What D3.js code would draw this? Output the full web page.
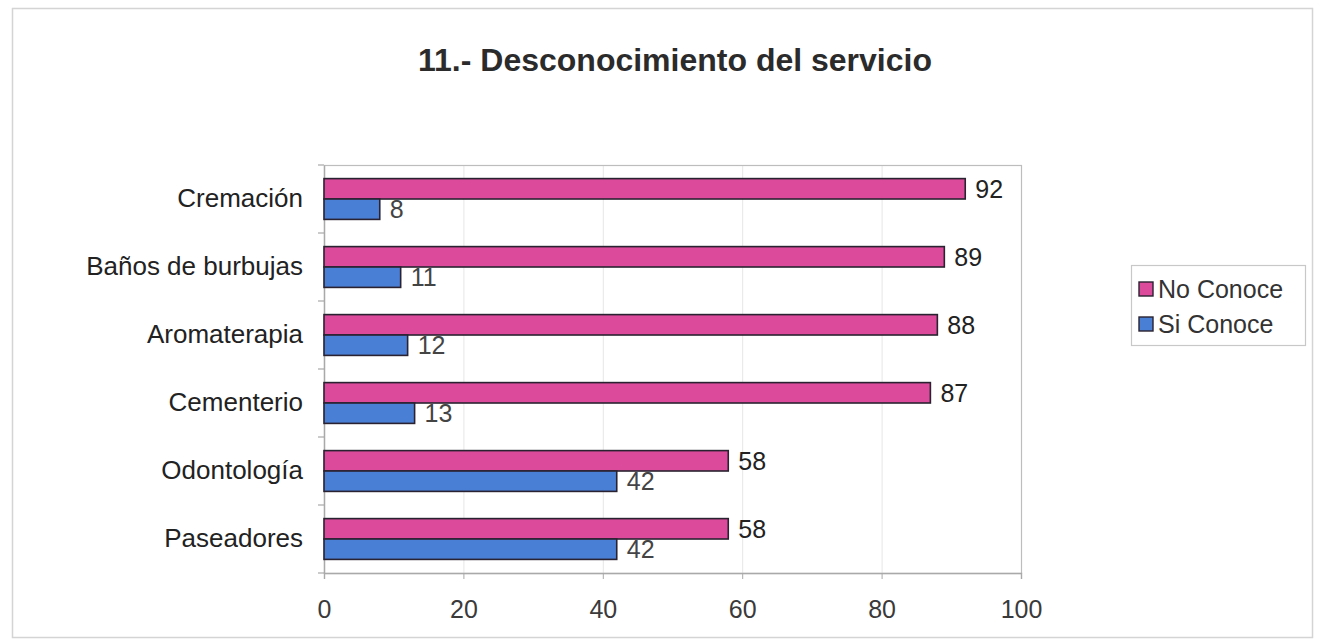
<!DOCTYPE html>
<html>
<head>
<meta charset="utf-8">
<script src="https://cdn.jsdelivr.net/npm/d3@7"></script>
<style>
  html, body { margin: 0; padding: 0; background: #fff; }
  svg { display: block; font-family: "Liberation Sans", Arial, sans-serif; }
</style>
</head>
<body>
<svg id="chart" width="1320" height="641"></svg>
<script>
// Services asked about, top to bottom
const categories = ["Cremación", "Baños de burbujas", "Aromaterapia", "Cementerio", "Odontología", "Paseadores"];
// Series names (legend order)
const seriesNames = ["No Conoce", "Si Conoce"];
// Percent of respondents per service
const noConoce = [92, 89, 88, 87, 58, 58];
const siConoce = [8, 11, 12, 13, 42, 42];
// Value axis ticks
const xTicks = [0, 20, 40, 60, 80, 100];

const colors = { "No Conoce": "#dc4a9b", "Si Conoce": "#4a7fd6" };
const values = { "No Conoce": noConoce, "Si Conoce": siConoce };

const svg = d3.select("#chart");

// Outer chart frame
svg.append("rect")
  .attr("x", 12.5).attr("y", 8.5)
  .attr("width", 1300).attr("height", 629)
  .attr("fill", "#fff").attr("stroke", "#d4d4d4").attr("stroke-width", 1.5);

// Title
svg.append("text")
  .attr("x", 675).attr("y", 71)
  .attr("text-anchor", "middle")
  .attr("font-size", 32).attr("font-weight", "bold")
  .attr("fill", "#2b2b2b")
  .text("11.- Desconocimiento del servicio");

const plot = { left: 324, right: 1021, top: 165, bottom: 573 };

const x = d3.scaleLinear().domain([0, 100]).range([plot.left, plot.right]);
const y = d3.scaleBand().domain(categories)
  .range([plot.top, plot.bottom])
  .paddingInner(0.4).paddingOuter(0.2);
const ySub = d3.scaleBand().domain(seriesNames).range([0, y.bandwidth()]);

// Gridlines
svg.append("g").selectAll("line")
  .data(xTicks.slice(1, -1))
  .join("line")
  .attr("x1", d => x(d) + 0.5).attr("x2", d => x(d) + 0.5)
  .attr("y1", plot.top).attr("y2", plot.bottom)
  .attr("stroke", "#e6e6e6").attr("stroke-width", 1);

// Plot area border
svg.append("rect")
  .attr("x", plot.left + 0.5).attr("y", plot.top + 0.5)
  .attr("width", plot.right - plot.left).attr("height", plot.bottom - plot.top)
  .attr("fill", "none").attr("stroke", "#bdbdbd").attr("stroke-width", 1.2);

// Category axis (left)
const yAxis = svg.append("g")
  .attr("transform", `translate(${plot.left},0)`)
  .call(d3.axisLeft(y).tickSize(0).tickPadding(21));
yAxis.select(".domain").attr("stroke", "#a9a9a9").attr("stroke-width", 1.4);
yAxis.selectAll("text")
  .attr("font-size", 26).attr("fill", "#222")
  .attr("font-family", "Liberation Sans, Arial, sans-serif");

// Separator ticks between categories
const stepTicks = d3.range(categories.length + 1).map(i => plot.top + (plot.bottom - plot.top) * i / categories.length);
svg.append("g").selectAll("line")
  .data(stepTicks)
  .join("line")
  .attr("x1", plot.left - 6).attr("x2", plot.left)
  .attr("y1", d => d).attr("y2", d => d)
  .attr("stroke", "#a9a9a9").attr("stroke-width", 1.2);

// Value axis (bottom)
const xAxis = svg.append("g")
  .attr("transform", `translate(0,${plot.bottom})`)
  .call(d3.axisBottom(x).tickValues(xTicks).tickSize(6).tickPadding(21));
xAxis.select(".domain").attr("stroke", "#a9a9a9").attr("stroke-width", 1.4);
xAxis.selectAll(".tick line").attr("stroke", "#a9a9a9");
xAxis.selectAll("text")
  .attr("font-size", 25).attr("fill", "#3a3a3a")
  .attr("font-family", "Liberation Sans, Arial, sans-serif");

// Bars
const groups = svg.append("g").selectAll("g")
  .data(categories)
  .join("g")
  .attr("transform", c => `translate(0,${y(c)})`);

seriesNames.forEach(s => {
  groups.append("rect")
    .attr("x", x(0))
    .attr("y", ySub(s))
    .attr("width", (c, i) => x(values[s][i]) - x(0))
    .attr("height", ySub.bandwidth())
    .attr("fill", colors[s])
    .attr("stroke", "#2a2230").attr("stroke-width", 1.6);

  groups.append("text")
    .attr("x", (c, i) => x(values[s][i]) + 10)
    .attr("y", ySub(s) + ySub.bandwidth() / 2)
    .attr("dy", "0.35em")
    .attr("font-size", 25)
    .attr("fill", s === "Si Conoce" ? "#444" : "#222")
    .text((c, i) => values[s][i]);
});

// Legend
const legend = svg.append("g").attr("transform", "translate(1131,265)");
legend.append("rect")
  .attr("x", 0.5).attr("y", 0.5).attr("width", 174).attr("height", 80)
  .attr("fill", "#fff").attr("stroke", "#c8c8c8").attr("stroke-width", 1.2);
seriesNames.forEach((s, i) => {
  const row = legend.append("g").attr("transform", `translate(8,${24 + i * 35})`);
  row.append("rect")
    .attr("x", 0).attr("y", -7).attr("width", 14).attr("height", 14)
    .attr("fill", colors[s]).attr("stroke", "#2a2230").attr("stroke-width", 1.4);
  row.append("text")
    .attr("x", 19).attr("y", 0).attr("dy", "0.35em")
    .attr("font-size", 25).attr("fill", "#333")
    .text(s);
});
</script>
</body>
</html>
